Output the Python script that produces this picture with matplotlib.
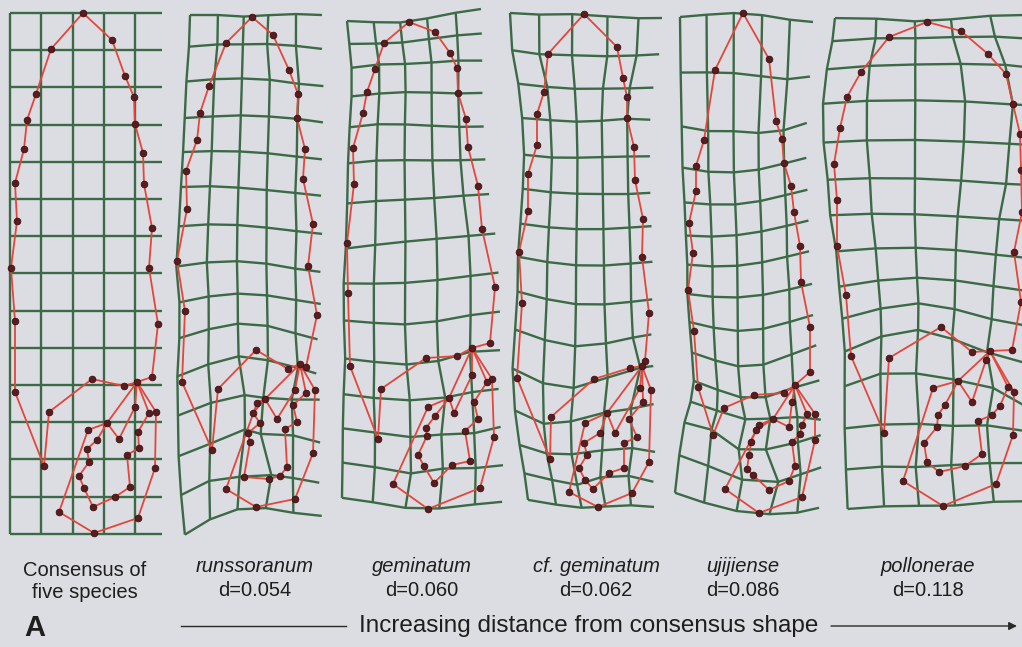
import numpy as np
import matplotlib
matplotlib.use("Agg")
import matplotlib.pyplot as plt

# ---------------- data (landmark coordinates, pixel units) -------------
CONSENSUS_X = [83, 51, 36, 27, 24, 15, 17, 11, 15, 15, 44,
               112, 125, 134, 135, 143, 144, 152, 149, 158, 152,
               137, 49, 92, 124,
               156, 155, 138, 94, 59, 88, 107,
               119, 135,
               149, 138, 139, 127, 130, 115, 93, 84, 79, 89, 87, 97]
CONSENSUS_Y = [13, 49, 94, 120, 149, 183, 221, 268, 321, 392, 466,
               40, 76, 97, 124, 153, 184, 228, 268, 324, 377,
               382, 412, 379, 386,
               412, 468, 518, 533, 512, 430, 423,
               439, 407,
               413, 432, 448, 455, 487, 497, 507, 488, 476, 462, 449, 440]

RUNSSORANUM_X = [252, 226, 209, 200, 197, 186, 187, 177, 185, 182, 212,
                 273, 289, 298, 297, 305, 303, 313, 308, 317, 306,
                 300, 218, 256, 288,
                 315, 313, 295, 256, 226, 257, 265,
                 277, 295,
                 306, 293, 297, 285, 287, 280, 269, 244, 250, 248, 260, 253]
RUNSSORANUM_Y = [17, 43, 86, 113, 140, 171, 209, 261, 311, 382, 450,
                 35, 70, 94, 118, 149, 179, 224, 266, 315, 367,
                 364, 389, 350, 369,
                 390, 453, 499, 507, 489, 403, 399,
                 419, 390,
                 393, 405, 422, 429, 467, 476, 479, 477, 442, 433, 423, 413]

GEMINATUM_X = [409, 384, 375, 367, 363, 353, 354, 347, 348, 350, 378,
               435, 450, 457, 458, 466, 468, 478, 482, 495, 490,
               472, 381, 426, 457,
               492, 494, 480, 428, 393, 428, 449,
               454, 472,
               487, 474, 478, 465, 470, 452, 434, 424, 418, 427, 426, 435]
GEMINATUM_Y = [22, 43, 69, 92, 113, 148, 184, 243, 293, 366, 439,
               32, 53, 68, 93, 119, 147, 186, 229, 287, 343,
               348, 389, 358, 356,
               379, 437, 488, 509, 484, 407, 398,
               413, 375,
               382, 402, 419, 431, 461, 465, 483, 466, 455, 436, 428, 416]

CF_GEMINATUM_X = [584, 548, 544, 537, 537, 528, 528, 519, 522, 517, 550,
                  617, 623, 627, 627, 634, 635, 643, 642, 649, 645,
                  642, 551, 594, 630,
                  651, 649, 632, 598, 569, 585, 607,
                  615, 640,
                  643, 629, 637, 624, 624, 609, 593, 585, 579, 587, 584, 600]
CF_GEMINATUM_Y = [14, 54, 92, 114, 145, 174, 211, 252, 303, 378, 459,
                  47, 78, 97, 118, 147, 180, 219, 257, 313, 361,
                  366, 417, 379, 368,
                  390, 462, 493, 507, 492, 423, 413,
                  433, 388,
                  402, 419, 437, 443, 468, 473, 489, 480, 468, 455, 443, 433]

UJIJIENSE_X = [743, 715, 704, 696, 696, 689, 693, 688, 694, 698, 713,
               769, 776, 782, 784, 791, 794, 800, 801, 810, 810,
               795, 724, 754, 784,
               815, 815, 802, 759, 725, 759, 773,
               789, 792,
               807, 802, 800, 792, 795, 789, 769, 753, 747, 749, 751, 756]
UJIJIENSE_Y = [13, 70, 140, 166, 191, 223, 253, 290, 331, 387, 435,
               59, 121, 139, 163, 186, 212, 246, 282, 327, 372,
               385, 408, 395, 393,
               414, 440, 497, 513, 489, 425, 419,
               427, 402,
               414, 425, 434, 442, 466, 481, 490, 475, 469, 455, 442, 430]

POLLONERAE_X = [927, 889, 861, 847, 840, 834, 837, 837, 846, 851, 884,
                961, 988, 1006, 1013, 1020, 1021, 1022, 1014, 1021, 1012,
                990, 889, 941, 972,
                1014, 1013, 996, 943, 903, 933, 958,
                972, 986,
                1008, 1000, 992, 978, 982, 965, 939, 927, 924, 937, 938, 945]
POLLONERAE_Y = [22, 37, 72, 97, 128, 164, 200, 246, 295, 356, 433,
                31, 54, 74, 104, 134, 170, 212, 252, 302, 350,
                351, 358, 327, 352,
                392, 435, 484, 506, 481, 388, 381,
                402, 360,
                387, 406, 415, 421, 454, 466, 472, 462, 443, 427, 415, 405]

# grid corners (top-left, top-right, bottom-left, bottom-right)
CONSENSUS_CORNERS = [(10, 13), (162, 13), (10, 534), (162, 534)]
RUNSSORANUM_CORNERS = [(190, 15), (322, 15), (185, 535), (322, 516)]
GEMINATUM_CORNERS = [(347, 21), (481, 9), (342, 498), (502, 502)]
CF_GEMINATUM_CORNERS = [(510, 13), (662, 18), (528, 500), (654, 507)]
UJIJIENSE_CORNERS = [(680, 17), (813, 22), (675, 493), (819, 508)]
POLLONERAE_CORNERS = None

SPECIES_NAMES = ["runssoranum", "geminatum", "cf. geminatum", "ujijiense", "pollonerae"]
DISTANCES = ["d=0.054", "d=0.060", "d=0.062", "d=0.086", "d=0.118"]
CONSENSUS_LABEL = "Consensus of\nfive species"
AXIS_TEXT = "Increasing distance from consensus shape"
PANEL_LETTER = "A"

# outline connectivity (landmark index paths)
PATHS = [
    [10, 9, 8, 7, 6, 5, 4, 3, 2, 1, 0, 11, 12, 13, 14, 15, 16, 17, 18, 19, 20, 21],
    [10, 22, 23, 24, 21],
    [21, 25, 26, 27, 28, 29, 30, 31, 21],
    [31, 32, 33, 21],
    [21, 34, 35, 36, 37, 38, 39, 40, 41, 42, 43, 44, 45, 31],
]

# consensus grid (pixel coords of the reference grid)
GRID_X = [10, 41.3, 72.6, 103.9, 135.2, 162]
GRID_Y = [13 + 37.2 * j for j in range(15)]
N_VERT = 5

# ---------------- style ----------------
BG = "#dcdde2"
GRID_C = "#3c6a47"
LINE_C = "#e2463c"
DOT_C = "#5a1c1e"
TEXT_C = "#1e1e1e"


def tps_fit(src, dst, lam=0.02):
    c = src.mean(0)
    s = 100.0
    S = (src - c) / s
    n = len(S)

    def kern(A, B):
        d = np.linalg.norm(A[:, None] - B[None], axis=2)
        d2 = d ** 2
        return np.where(d > 0, d2 * np.log(np.maximum(d2, 1e-300)), 0.0)

    K = kern(S, S)
    P = np.hstack([np.ones((n, 1)), S])
    L = np.zeros((n + 3, n + 3))
    L[:n, :n] = K + lam * np.eye(n)
    L[:n, n:] = P
    L[n:, :n] = P.T
    rhs = np.zeros((n + 3, 2))
    rhs[:n] = dst
    coef = np.linalg.solve(L, rhs)

    def f(pts):
        Q = (np.asarray(pts, float) - c) / s
        Kq = kern(Q, S)
        Pq = np.hstack([np.ones((len(Q), 1)), Q])
        return Kq @ coef[:n] + Pq @ coef[n:]

    return f


fig = plt.figure(figsize=(10.22, 6.47), dpi=100, facecolor=BG)
ax = fig.add_axes([0, 0, 1, 1])
ax.set_facecolor(BG)
ax.set_xlim(0, 1022)
ax.set_ylim(647, 0)
ax.axis("off")

cons = np.column_stack([CONSENSUS_X, CONSENSUS_Y]).astype(float)
targets = [
    (CONSENSUS_X, CONSENSUS_Y, CONSENSUS_CORNERS),
    (RUNSSORANUM_X, RUNSSORANUM_Y, RUNSSORANUM_CORNERS),
    (GEMINATUM_X, GEMINATUM_Y, GEMINATUM_CORNERS),
    (CF_GEMINATUM_X, CF_GEMINATUM_Y, CF_GEMINATUM_CORNERS),
    (UJIJIENSE_X, UJIJIENSE_Y, UJIJIENSE_CORNERS),
    (POLLONERAE_X, POLLONERAE_Y, POLLONERAE_CORNERS),
]

for k, (tx, ty, corners) in enumerate(targets):
    tgt = np.column_stack([tx, ty]).astype(float)
    src_ctrl, dst_ctrl = cons, tgt
    if corners is not None:
        src_ctrl = np.vstack([cons, np.array(CONSENSUS_CORNERS, float)])
        dst_ctrl = np.vstack([tgt, np.array(corners, float)])
    f = tps_fit(src_ctrl, dst_ctrl, lam=0.0 if k == 0 else 0.02)
    # horizontal grid lines
    for gy in GRID_Y:
        pts = f(np.column_stack([GRID_X, [gy] * len(GRID_X)]))
        ax.plot(pts[:, 0], pts[:, 1], color=GRID_C, lw=1.7, solid_capstyle="butt", zorder=1)
    # vertical grid lines
    for gx in GRID_X[:N_VERT]:
        pts = f(np.column_stack([[gx] * len(GRID_Y), GRID_Y]))
        ax.plot(pts[:, 0], pts[:, 1], color=GRID_C, lw=1.7, solid_capstyle="butt", zorder=1)
    # outline
    for p in PATHS:
        ax.plot(tgt[p, 0], tgt[p, 1], color=LINE_C, lw=1.3, zorder=2)
    ax.plot(tgt[:, 0], tgt[:, 1], "o", ms=4.8, color=DOT_C, mec="#3a1012", mew=0.6, zorder=3)

# labels
ax.text(85, 581, CONSENSUS_LABEL, ha="center", va="center", fontsize=14.5,
        family="Liberation Sans", color=TEXT_C, linespacing=1.2)
label_x = [255, 422, 596, 743, 928]
for x, name, d in zip(label_x, SPECIES_NAMES, DISTANCES):
    ax.text(x, 567, name, ha="center", va="center", fontsize=14.5, style="italic",
            family="Liberation Sans", color=TEXT_C)
    ax.text(x, 590, d, ha="center", va="center", fontsize=14.5,
            family="Liberation Sans", color=TEXT_C)

ax.text(35, 628, PANEL_LETTER, ha="center", va="center", fontsize=21, weight="bold",
        family="Liberation Sans", color=TEXT_C)
ax.text(589, 626, AXIS_TEXT, ha="center", va="center", fontsize=17.5,
        family="Liberation Sans", color=TEXT_C)
ax.plot([181, 346], [626, 626], color="#2a2a2a", lw=1.0)
ax.annotate("", xy=(1017, 626), xytext=(831, 626),
            arrowprops=dict(arrowstyle="-|>", color="#2a2a2a", lw=1.0,
                            mutation_scale=12, shrinkA=0, shrinkB=0))

fig.savefig("out.png", dpi=100, facecolor=BG)
